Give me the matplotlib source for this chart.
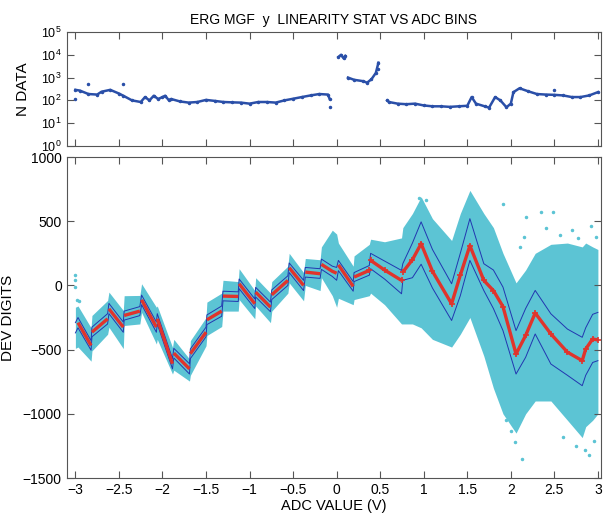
import numpy as np
import matplotlib
matplotlib.use("Agg")
from matplotlib import pyplot as plt
from matplotlib.ticker import LogLocator, NullFormatter

plt.rcParams['font.family'] = ['Liberation Sans', 'DejaVu Sans']
plt.rcParams['mathtext.default'] = 'regular'
plt.rcParams['font.size'] = 10

# ---- top panel: number of samples per ADC bin (NaN = empty bins)
ndata_x = [-3.0, -2.95, -2.85, -2.75, -2.7, -2.6, -2.5, -2.45, -2.35, -2.25, -2.2, -2.15,
           -2.1, -2.05, -2.0, -1.97, -1.93, -1.9, -1.8, -1.7, -1.6, -1.5, -1.4, -1.3,
           -1.2, -1.1, -1.0, -0.9, -0.8, -0.7, -0.6, -0.5, -0.4, -0.3, -0.2, -0.1,
           -0.08, -0.06, 0.02, 0.05, 0.08, 0.1, 0.11, 0.13, 0.2, 0.3, 0.35, 0.4, 0.45,
           0.48, 0.53, 0.58, 0.6, 0.7, 0.8, 0.9, 1.0, 1.1, 1.2, 1.3, 1.4, 1.5, 1.55,
           1.6, 1.7, 1.75, 1.82, 1.88, 1.95, 2.0, 2.03, 2.1, 2.2, 2.3, 2.4, 2.5, 2.6,
           2.7, 2.8, 2.9, 3.0]
ndata = [290, 270, 190, 180, 240, 290, 200, 160, 100, 85, 140, 100,
         160, 115, 140, 160, 105, 115, 90, 80, 85, 105, 95, 85,
         82, 80, 72, 85, 85, 80, 100, 118, 140, 165, 190, 180,
         115, np.nan, 8000, 10000, 7000, 9000, np.nan, 1000, 800, 700, 600, 850, 1600,
         4500, np.nan, 100, 85, 72, 68, 72, 60, 55, 55, 52, 55, 58, 140,
         72, 55, 48, 140, 100, 50, 72, 230, 340, 250, 190, 180, 175, 165,
         140, 140, 165, 230]
ndata_odd_x = [-3.0, -2.85, -2.45, -0.08, 2.5, 0.47]
ndata_odd = [115, 500, 550, 52, 300, 2500]

# ---- bottom panel: deviation vs ADC value (vertices)
adc_v = [-3.0, -2.97, -2.82, -2.81, -2.63, -2.615, -2.45, -2.44, -2.26, -2.24,
         -2.07, -2.06, -1.885, -1.87, -1.69, -1.68, -1.5, -1.49, -1.32, -1.305,
         -1.13, -1.12, -0.94, -0.93, -0.76, -0.745, -0.56, -0.545, -0.38, -0.36,
         -0.19, -0.175, -0.05, 0.0, 0.02, 0.19, 0.2, 0.375, 0.39, 0.55,
         0.745, 0.76, 0.87, 0.97, 1.1, 1.32, 1.42, 1.53, 1.69, 1.8,
         1.91, 2.06, 2.17, 2.28, 2.46, 2.65, 2.82, 2.86, 2.94, 3.0]
dev_mean = [-330, -290, -468, -364, -260, -182, -325, -234, -200, -112,
            -325, -260, -610, -527, -650, -532, -364, -268, -200, -83,
            -86, 13, -143, -52, -169, -73, 39, 138, 0, 104,
            91, 164, 110, 95, 160, -8, 65, 117, 195, 120,
            39, 104, 200, 325, 110, -143, 80, 310, 39, -40,
            -165, -534, -390, -215, -378, -520, -586, -495, -417, -425]
dev_sig_hi = [-290, -250, -430, -325, -220, -140, -285, -200, -165, -75,
              -285, -220, -570, -490, -610, -495, -325, -230, -160, -45,
              -50, 50, -105, -15, -130, -35, 75, 175, 40, 140,
              130, 205, 150, 140, 195, 30, 100, 155, 250, 190,
              117, 170, 330, 495, 280, 13, 250, 520, 169, 120,
              -13, -352, -180, -39, -221, -340, -404, -330, -225, -210]
dev_sig_lo = [-370, -330, -505, -400, -300, -220, -365, -270, -235, -150,
              -365, -300, -650, -565, -690, -570, -400, -305, -240, -120,
              -125, -25, -180, -90, -205, -110, 0, 100, -40, 65,
              55, 125, 70, 40, 115, -45, 30, 80, 130, 50,
              -65, 40, 60, 165, -20, -273, -80, 195, -40, -180,
              -352, -690, -560, -378, -612, -700, -781, -700, -600, -586]
cloud_hi = [-170, -160, -330, -234, -117, -52, -195, -80, -78, 13,
            -170, -160, -482, -420, -573, -430, -250, -130, -60, 40,
            30, 130, -40, 60, -60, 30, 150, 250, 100, 210,
            200, 300, 430, 400, 330, 150, 230, 320, 360, 340,
            370, 450, 560, 690, 520, 350, 560, 740, 560, 450,
            250, 20, 120, 250, 320, 330, 300, 330, 300, 280]
cloud_lo = [-490, -480, -590, -510, -380, -326, -492, -312, -300, -210,
            -456, -420, -690, -660, -745, -700, -470, -390, -320, -200,
            -200, -110, -260, -160, -290, -200, -60, 20, -120, 0,
            -40, 60, -80, -170, -100, -150, -110, -80, -60, -150,
            -300, -300, -300, -330, -420, -480, -380, -250, -550, -800,
            -1000, -1150, -1000, -900, -900, -1050, -1185, -1100, -1050, -1000]
# scattered single samples outside the dense band
odd_x = [-3.0, -3.0, -3.0, -2.98, -2.96, 0.94, 1.03, 1.05, 1.29, 1.91, 2.18, 2.35,
         2.49, 2.56, 2.77, 2.92, 2.98, 1.95, 2.0, 2.05, 2.13, 2.6, 2.75, 2.85, 2.9, 2.95,
         2.1, 2.15, 2.4, 2.7]
odd_dev = [78, 39, -13, -117, -120, 677, 664, -336, -414, 638, 534, 573,
           573, 390, 372, 461, 377, -1050, -1130, -1220, -1350, -1180, -1250,
           -1280, -1320, -1210, 300, 380, 450, 430]

CYAN = '#5cc4d4'
BLUE = '#2a4fa8'
LINE = '#2236b0'
RED = '#e0342c'
GREY = '#555555'


def matlab_box(ax):
    for s in ax.spines.values():
        s.set_color(GREY)
        s.set_linewidth(0.8)
    ax.tick_params(which='both', direction='in', top=True, right=True,
                   color=GREY, labelcolor='black')
    ax.tick_params(which='major', length=5)
    ax.tick_params(which='minor', length=2.5)


fig = plt.figure(figsize=(6.03, 5.15), dpi=100)
ax1 = fig.add_axes([0.1106, 0.7165, 0.886, 0.2214])
ax2 = fig.add_axes([0.1106, 0.0718, 0.886, 0.6233])

# top panel
ax1.plot(ndata_x, ndata, color=BLUE, lw=1.8, marker='.', ms=3)
ax1.plot(ndata_odd_x, ndata_odd, ls='none', color=BLUE, marker='.', ms=3)
ax1.set_yscale('log')
ax1.set_ylim(1, 1e5)
ax1.set_xlim(-3.1, 3.035)
ax1.set_xticks(np.arange(-3, 3.01, 0.5))
ax1.set_xticklabels([])
ax1.set_yticks([1, 10, 100, 1e3, 1e4, 1e5])
ax1.yaxis.set_minor_locator(LogLocator(base=10, subs=np.arange(2, 10)))
ax1.yaxis.set_minor_formatter(NullFormatter())
ax1.tick_params(axis='y', labelsize=9)
ax1.set_ylabel('N DATA', fontsize=11)
ax1.yaxis.set_label_coords(-0.069, 0.5)
ax1.set_title('ERG MGF  y  LINEARITY STAT VS ADC BINS', fontsize=10, pad=6)
matlab_box(ax1)

# bottom panel
ax2.fill_between(adc_v, cloud_lo, cloud_hi, color=CYAN, lw=0)
ax2.plot(odd_x, odd_dev, ls='none', marker='.', ms=3, color=CYAN)
ax2.plot(adc_v, dev_sig_hi, color=LINE, lw=0.7)
ax2.plot(adc_v, dev_sig_lo, color=LINE, lw=0.7)

# mean: break the red trace at the sawtooth jumps
xv = np.array(adc_v)
mv = np.array(dev_mean, dtype=float)
breaks = np.where(np.diff(xv) < 0.03)[0] + 1
for seg_x, seg_m in zip(np.split(xv, breaks), np.split(mv, breaks)):
    ax2.plot(seg_x, seg_m, color=RED, lw=2.4, solid_capstyle='butt')
ax2.plot(xv[xv > 0.2], mv[xv > 0.2], ls='none', marker='+', ms=4, mew=1.2, color=RED)

ax2.set_xlim(-3.1, 3.035)
ax2.set_ylim(-1500, 1000)
ax2.set_xticks(np.arange(-3, 3.01, 0.5))
ax2.set_xticklabels(['\u22123', '\u22122.5', '\u22122', '\u22121.5', '\u22121', '\u22120.5',
                     '0', '0.5', '1', '1.5', '2', '2.5', '3'])
ax2.set_yticks(np.arange(-1500, 1001, 500))
ax2.set_yticklabels(['\u22121500', '\u22121000', '\u2212500', '0', '500', '1000'])
ax2.set_xlabel('ADC VALUE (V)', fontsize=10.5)
ax2.xaxis.set_label_coords(0.5, -0.066)
ax2.set_ylabel('DEV DIGITS', fontsize=11)
ax2.yaxis.set_label_coords(-0.097, 0.5)
matlab_box(ax2)

fig.savefig('out.png', dpi=100)
